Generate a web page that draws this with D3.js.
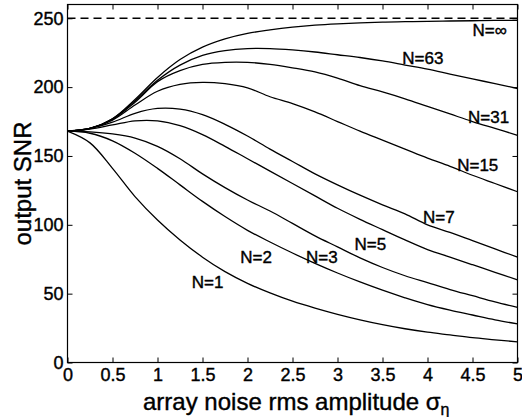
<html>
<head>
<style>
  body { margin: 0; background: #fff; }
  svg text { font-family: "Liberation Sans", Arial, sans-serif; fill: #000; stroke: #000; stroke-width: 0.4px; }
</style>
</head>
<body>
<svg id="chart" width="522" height="417"></svg>
<script src="https://d3js.org/d3.v7.js"></script>
<script>
// array noise rms amplitude (x)
var sigma = [0, 0.25, 0.5, 0.75, 1, 1.25, 1.5, 1.75, 2, 2.25, 2.5, 2.75, 3, 3.25, 3.5, 3.75, 4, 4.25, 4.5, 4.75, 5];

// output SNR for each array size N
var snrInf = [168, 170, 177, 191, 207, 220, 229, 235, 239, 241.5, 243.5, 245, 246, 246.7, 247.2, 247.5, 247.8, 248, 248.2, 248.4, 248.5];
var snr63  = [168, 170, 177, 190, 205, 216, 223, 226.5, 228, 228, 227, 225.5, 223.5, 221.5, 219, 216, 213, 209.5, 206, 202.5, 199];
var snr31  = [168, 170, 176.5, 189, 204, 212, 216.5, 218, 218, 216.5, 214, 211, 206.5, 201, 196.5, 191.5, 186, 180.5, 175, 170, 165];
var snr15  = [168, 170, 176, 187, 197, 202, 203.5, 202.5, 199.5, 193, 188, 182, 175, 168, 161.5, 155, 148.5, 142.5, 136, 130, 124];
var snr7   = [168, 170, 174.5, 181, 184.5, 184, 180, 173, 164.5, 155, 146, 137, 129, 121.5, 114.5, 108, 100, 94.5, 88.5, 82.5, 76.5];
var snr5   = [168, 169.5, 172.5, 175.5, 175.5, 172, 165.5, 157, 148, 139, 130, 121, 112, 104, 96.5, 89, 82, 76.5, 71, 65.5, 60];
var snr3   = [168, 167.5, 166, 163, 157, 148, 137, 127, 118, 110, 101, 92, 84, 76, 69, 63, 58, 53, 48.5, 44, 40];
var snr2   = [168, 166.5, 161, 152, 141, 129, 117, 106, 96, 87.5, 79.5, 72, 65, 58.5, 52.5, 47, 42, 38, 34.5, 31, 28];
var snr1   = [168, 159.5, 141, 120.5, 103.5, 89, 76.5, 66, 57.5, 50.5, 44.5, 39.5, 35, 31, 27.5, 24.5, 22, 20, 18, 16.5, 15];

var limitSNR = 250;

var seriesNames = ["N=\u221e", "N=63", "N=31", "N=15", "N=7", "N=5", "N=3", "N=2", "N=1"];
var seriesValues = [snrInf, snr63, snr31, snr15, snr7, snr5, snr3, snr2, snr1];
// where each label sits, in data units (left edge, baseline)
var labelSigma = [4.5, 3.72, 4.45, 4.33, 3.95, 3.19, 2.65, 1.92, 1.38];
var labelSNR   = [237, 216.5, 174, 139, 101.5, 81.5, 72.5, 72.5, 54];

var xTicks = [0, 0.5, 1, 1.5, 2, 2.5, 3, 3.5, 4, 4.5, 5];
var yTicks = [0, 50, 100, 150, 200, 250];

var plotLeft = 67.5, plotRight = 517.5, plotTop = 4.5, plotBottom = 362.5;

var svg = d3.select("#chart");

var x = d3.scaleLinear().domain([0, 5]).range([plotLeft, plotRight]);
var y = d3.scaleLinear().domain([0, 260]).range([plotBottom, plotTop]);

svg.append("clipPath").attr("id", "plotclip")
  .append("rect")
  .attr("x", plotLeft).attr("y", plotTop)
  .attr("width", plotRight - plotLeft).attr("height", plotBottom - plotTop);

// dashed N -> infinity limit
svg.append("line")
  .attr("x1", x(0)).attr("x2", x(5))
  .attr("y1", y(limitSNR)).attr("y2", y(limitSNR))
  .attr("stroke", "#000")
  .attr("stroke-width", 1.3)
  .attr("stroke-dasharray", "8,5");

var line = d3.line()
  .x(function(d, i) { return x(sigma[i]); })
  .y(function(d) { return y(d); })
  .curve(d3.curveCatmullRom.alpha(0.5));

svg.append("g")
  .attr("clip-path", "url(#plotclip)")
  .selectAll("path")
  .data(seriesValues)
  .enter()
  .append("path")
  .attr("d", line)
  .attr("fill", "none")
  .attr("stroke", "#000")
  .attr("stroke-width", 1.3);

// labels on the curves
svg.append("g")
  .selectAll("text")
  .data(seriesNames)
  .enter()
  .append("text")
  .attr("x", function(d, i) { return x(labelSigma[i]); })
  .attr("y", function(d, i) { return y(labelSNR[i]); })
  .style("font-size", "17px")
  .text(function(d) { return d; });

// axes, ticks pointing inward on all four sides
svg.append("g")
  .attr("transform", "translate(0," + plotBottom + ")")
  .call(d3.axisBottom(x).tickValues(xTicks).tickSizeInner(-5).tickSizeOuter(0).tickPadding(6)
    .tickFormat(d3.format("")));
svg.append("g")
  .attr("transform", "translate(0," + plotTop + ")")
  .call(d3.axisTop(x).tickValues(xTicks).tickSizeInner(-5).tickSizeOuter(0).tickFormat(""));
svg.append("g")
  .attr("transform", "translate(" + plotLeft + ",0)")
  .call(d3.axisLeft(y).tickValues(yTicks).tickSizeInner(-5).tickSizeOuter(0).tickPadding(4));
svg.append("g")
  .attr("transform", "translate(" + plotRight + ",0)")
  .call(d3.axisRight(y).tickValues(yTicks).tickSizeInner(-5).tickSizeOuter(0).tickFormat(""));

svg.selectAll(".domain").remove();
svg.selectAll(".tick line").attr("stroke", "#000");
svg.selectAll(".tick text")
  .style("font-size", "18px")
  .attr("fill", "#000");

// frame
svg.append("rect")
  .attr("x", plotLeft).attr("y", plotTop)
  .attr("width", plotRight - plotLeft).attr("height", plotBottom - plotTop)
  .attr("fill", "none")
  .attr("stroke", "#000")
  .attr("stroke-width", 1.2);

// axis titles
var xt = svg.append("text")
  .attr("x", 143)
  .attr("y", 410)
  .style("font-size", "24px");
xt.append("tspan").text("array noise rms amplitude \u03c3");
xt.append("tspan").attr("dy", 5).style("font-size", "16px").text("\u03b7");

svg.append("text")
  .attr("transform", "translate(31," + ((plotTop + plotBottom) / 2) + ") rotate(-90)")
  .attr("text-anchor", "middle")
  .style("font-size", "24px")
  .text("output SNR");
</script>
</body>
</html>
